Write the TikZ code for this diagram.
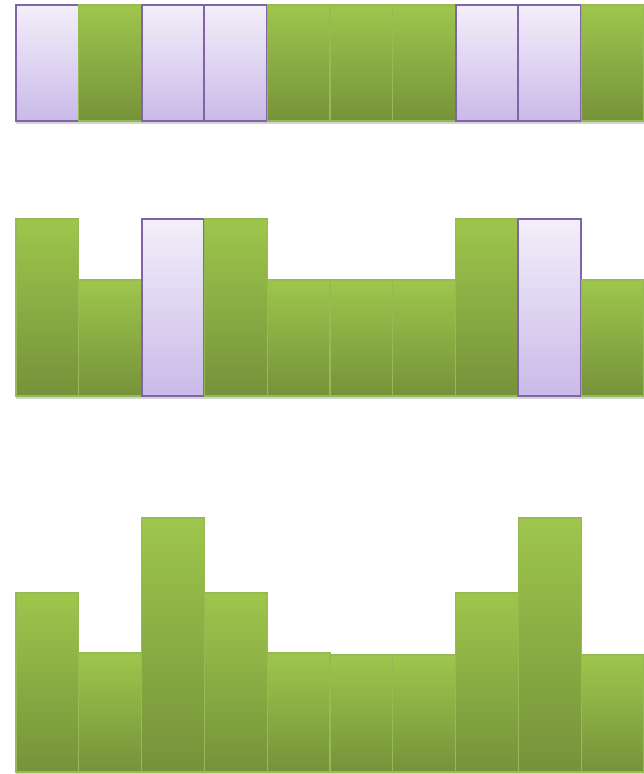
\documentclass[tikz,border=0pt]{standalone}
\usepackage{tikz}
\usepackage{xcolor}
\usetikzlibrary{shadows}

\definecolor{greentop}{RGB}{158,198,76}
\definecolor{greenbot}{RGB}{118,146,58}
\definecolor{greenline}{RGB}{150,186,84}
\definecolor{purpletop}{RGB}{243,239,250}
\definecolor{purplebot}{RGB}{201,186,232}
\definecolor{purpleline}{RGB}{128,100,166}

\begin{document}
\begin{tikzpicture}[
    x=0.02cm, y=-0.02cm,
    barshadow/.style={drop shadow={shadow xshift=0pt, shadow yshift=-0.6mm, opacity=0.35}},
    barg/.style={draw=greenline, line width=0.7pt, top color=greentop, bottom color=greenbot, barshadow},
    barp/.style={draw=purpleline, line width=1.1pt, top color=purpletop, bottom color=purplebot, barshadow}
]
\useasboundingbox (0,0) rectangle (644,774);
\clip (0,0) rectangle (644,774);

% top row: all bars equal
\foreach \k/\t [count=\n from 0] in {p/5,g/5,p/5,p/5,g/5,g/5,g/5,p/5,p/5,g/5}
  \draw[bar\k] ({16+62.8*\n},\t) rectangle +(62.8,{121-\t});

% middle row
\foreach \k/\t [count=\n from 0] in {g/219,g/280,p/219,g/219,g/280,g/280,g/280,g/219,p/219,g/280}
  \draw[bar\k] ({16+62.8*\n},\t) rectangle +(62.8,{396-\t});

% bottom row
\foreach \k/\t [count=\n from 0] in {g/593,g/653,g/518,g/593,g/653,g/655,g/655,g/593,g/518,g/655}
  \draw[bar\k] ({16+62.8*\n},\t) rectangle +(62.8,{772-\t});
\end{tikzpicture}
\end{document}
